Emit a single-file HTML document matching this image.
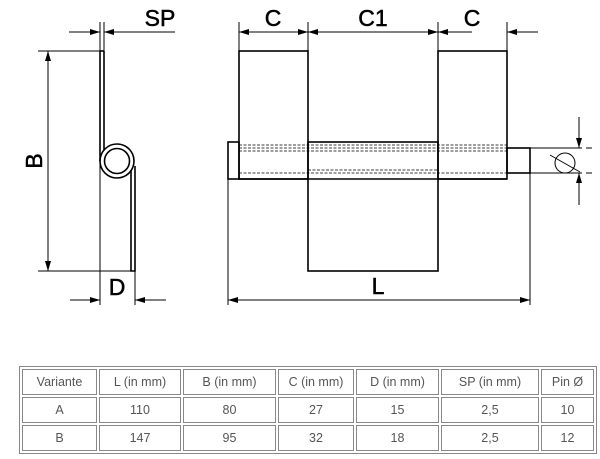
<!DOCTYPE html>
<html><head><style>
html,body{margin:0;padding:0;background:#fff;}
svg{display:block;}
table{position:absolute;left:19px;top:366px;border-collapse:separate;border-spacing:2px;border:1px solid #888;font-family:"Liberation Sans",sans-serif;font-size:12.5px;color:#555;}
td{border:1px solid #888;text-align:center;height:24px;padding:0;}
</style></head><body>
<svg width="600" height="459" viewBox="0 0 600 459" xmlns="http://www.w3.org/2000/svg">
<defs>
<marker id="a" viewBox="0 0 10 6" refX="10" refY="3" markerWidth="10" markerHeight="6" markerUnits="userSpaceOnUse" orient="auto"><path d="M0,0L10,3L0,6z" fill="#000"/></marker>
</defs>
<g fill="none" stroke="#000" stroke-width="1">
<line x1="38" y1="51" x2="100" y2="51"/>
<line x1="38" y1="271" x2="135" y2="271"/>
<line x1="48" y1="160" x2="48" y2="51" marker-end="url(#a)"/>
<line x1="48" y1="160" x2="48" y2="271" marker-end="url(#a)"/>
<line x1="100" y1="22" x2="100" y2="305"/>
<line x1="104" y1="22" x2="104" y2="51"/>
<line x1="69" y1="32" x2="100" y2="32" marker-end="url(#a)"/>
<line x1="175" y1="32" x2="104" y2="32" marker-end="url(#a)"/>
<line x1="135" y1="271" x2="135" y2="305"/>
<line x1="70" y1="300" x2="100" y2="300" marker-end="url(#a)"/>
<line x1="166" y1="300" x2="135" y2="300" marker-end="url(#a)"/>
</g>
<g fill="none" stroke="#000" stroke-width="1.6">
<line x1="100" y1="51" x2="104" y2="51"/>
<line x1="100" y1="51" x2="100" y2="161"/>
<line x1="104" y1="51" x2="104" y2="150"/>
<circle cx="117" cy="161" r="17"/>
<circle cx="117" cy="161" r="12.5"/>
<path d="M131,170 L131,271 L135,271 L135,166"/>
</g>
<g fill="none" stroke="#000" stroke-width="1.6">
<rect x="239" y="51" width="69" height="128"/>
<rect x="438" y="51" width="69" height="128"/>
<rect x="308" y="142" width="130" height="129"/>
<rect x="228" y="142" width="11" height="37"/>
<rect x="507" y="148" width="23" height="25"/>
<line x1="239" y1="179" x2="507" y2="179"/>
</g>
<g stroke="#000" stroke-width="0.8" stroke-dasharray="3,1.5">
<line x1="239" y1="145" x2="507" y2="145"/>
<line x1="239" y1="148" x2="507" y2="148"/>
<line x1="239" y1="151" x2="507" y2="151"/>
<line x1="239" y1="173" x2="507" y2="173"/>
<line x1="308" y1="170" x2="438" y2="170"/>
</g>
<g fill="none" stroke="#000" stroke-width="1">
<line x1="239" y1="22" x2="239" y2="51"/>
<line x1="308" y1="22" x2="308" y2="51"/>
<line x1="438" y1="22" x2="438" y2="51"/>
<line x1="507" y1="22" x2="507" y2="51"/>
<line x1="273" y1="32" x2="239" y2="32" marker-end="url(#a)"/>
<line x1="273" y1="32" x2="308" y2="32" marker-end="url(#a)"/>
<line x1="373" y1="32" x2="308" y2="32" marker-end="url(#a)"/>
<line x1="373" y1="32" x2="438" y2="32" marker-end="url(#a)"/>
<line x1="472" y1="32" x2="438" y2="32" marker-end="url(#a)"/>
<line x1="538" y1="32" x2="507" y2="32" marker-end="url(#a)"/>
<line x1="228" y1="179" x2="228" y2="305"/>
<line x1="530" y1="173" x2="530" y2="305"/>
<line x1="379" y1="300" x2="228" y2="300" marker-end="url(#a)"/>
<line x1="379" y1="300" x2="530" y2="300" marker-end="url(#a)"/>
<line x1="530" y1="148" x2="582" y2="148"/>
<line x1="530" y1="173" x2="582" y2="173"/>
<line x1="586" y1="148" x2="592" y2="148"/>
<line x1="586" y1="173" x2="592" y2="173"/>
<line x1="579" y1="117" x2="579" y2="148" marker-end="url(#a)"/>
<line x1="579" y1="205" x2="579" y2="173" marker-end="url(#a)"/>
<circle cx="565" cy="163" r="10"/>
<line x1="550" y1="155" x2="580" y2="172"/>
</g>
<g font-family="Liberation Sans, sans-serif" font-size="23" fill="#000" stroke="#000" stroke-width="0.5" text-anchor="middle">
<text x="160" y="26">SP</text>
<text x="273" y="26">C</text>
<text x="373" y="26">C1</text>
<text x="472" y="26">C</text>
<text x="117" y="295">D</text>
<text x="378" y="294">L</text>
<text x="0" y="0" transform="translate(42,161) rotate(-90)">B</text>
</g>
</svg>
<table>
<tr><td style="width:73px">Variante</td><td style="width:80px">L (in mm)</td><td style="width:91px">B (in mm)</td><td style="width:74px">C (in mm)</td><td style="width:81px">D (in mm)</td><td style="width:96px">SP (in mm)</td><td style="width:51px">Pin Ø</td></tr>
<tr><td>A</td><td>110</td><td>80</td><td>27</td><td>15</td><td>2,5</td><td>10</td></tr>
<tr><td>B</td><td>147</td><td>95</td><td>32</td><td>18</td><td>2,5</td><td>12</td></tr>
</table>
</body></html>
